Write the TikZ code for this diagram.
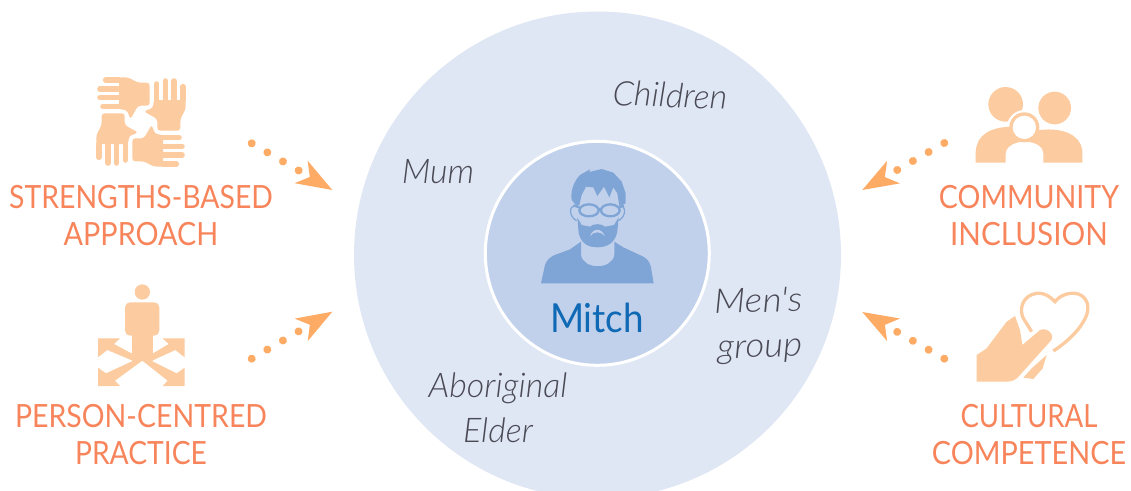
\documentclass[tikz,border=0pt]{standalone}
\usepackage{fontspec}
\usepackage{graphicx}
\usetikzlibrary{arrows.meta}
\newfontfamily\capsfont{Lato}
\newfontfamily\namefont{Lato}
\newfontfamily\handfont{Lato}[ItalicFont=* Light Italic]
\definecolor{peachicon}{HTML}{FCCBA0}
\definecolor{peachtext}{HTML}{F7845A}
\definecolor{peachflow}{HTML}{FDAB65}
\definecolor{outerblue}{HTML}{DFE6F4}
\definecolor{innerblue}{HTML}{C2D1EB}
\definecolor{bustblue}{HTML}{7FA5D6}
\definecolor{nameblue}{HTML}{0F69B4}
\definecolor{handgrey}{HTML}{4A4A55}
\newcommand{\capsline}[2]{\scalebox{#1}[1]{#2}}
\tikzset{
	practice/.style = {text=peachtext, align=center, inner sep=0pt,
		font=\capsfont\fontsize{32}{37}\selectfont},
	helper/.style = {text=handgrey, inner sep=0pt, align=center,
		font=\handfont\itshape\fontsize{34}{45}\selectfont},
	flow/.style = {draw=peachflow, line width=8pt, line cap=round, dash pattern=on 0.01pt off 18.07pt,
		-{Stealth[length=36pt, width=26pt, inset=10pt, line width=0pt, fill=peachflow]}},
	zoomed/.style = {x=0.33333pt, y=-0.33333pt},
	handpic/.pic = {
		\fill[peachicon, rounded corners=3] (-66,-134) -- (-39,-134) -- (-9,-118) -- (26,-118)
			-- (26,-49) -- (-9,-49) -- (-32,-8) -- (-42,-36) -- (-66,-38) -- cycle;
		\draw[peachicon, line width=5.6pt, line cap=round] (-106,-126) -- (-64,-126);
		\draw[peachicon, line width=5.6pt, line cap=round] (-123,-99) -- (-64,-99);
		\draw[peachicon, line width=5.6pt, line cap=round] (-123,-73) -- (-64,-73);
		\draw[peachicon, line width=5.6pt, line cap=round] (-114,-47) -- (-64,-47);
	}
}
\begin{document}
\begin{tikzpicture}[x=1pt, y=-1pt]
	\useasboundingbox (0,0) rectangle (1131,490);
	\clip (0,0) rectangle (1131,490);

	% circles
	\fill[outerblue] (597.5,255) circle (243.5);
	\node[circle, fill=innerblue, draw=white, line width=3pt, minimum size=224pt, inner sep=0pt] (mitch circle) at (597.3,253.3) {};

	% bust of Mitch
	\begin{scope}[shift={(480,130)}, zoomed]
		\fill[bustblue] (183,460) -- (195,405) .. controls (200,390) and (210,382) .. (222,376) -- (270,358) -- (303,335)
			-- (303,375) .. controls (310,420) and (396,420) .. (403,375) -- (403,335) -- (430,352) -- (490,380)
			.. controls (505,388) and (510,400) .. (513,412) -- (521,460) -- cycle;
		\fill[bustblue] (290,228) -- (275,210) .. controls (270,180) and (285,150) .. (300,135) -- (330,118) -- (328,126)
			-- (365,117) -- (400,128) -- (425,155) -- (437,190) -- (437,220) -- (418,228) -- (412,190) -- (400,172) -- (388,202)
			-- (372,170) -- (352,198) -- (340,172) -- (318,170) -- (305,195) -- (298,225) -- cycle;
		\fill[bustblue] (292,262) -- (296,310) .. controls (305,345) and (330,352) .. (352,352) .. controls (380,352) and (405,340) .. (412,305)
			-- (416,262) -- (402,285) -- (375,290) .. controls (365,280) and (340,280) .. (330,290) -- (305,285) -- cycle;
		\fill[innerblue] (330,318) .. controls (340,293) and (364,293) .. (374,318) .. controls (362,303) and (342,303) .. (330,318) -- cycle;
		\draw[bustblue, line width=2.3pt] (327,241) ellipse (29 and 18) (391,241) ellipse (28 and 18);
		\draw[bustblue, line width=2.3pt] (356,238) -- (363,238) (298,232) -- (280,226) (419,232) -- (432,226);
		\draw[bustblue, line width=1.2pt] (285,228) .. controls (268,225) and (265,260) .. (290,272);
		\draw[bustblue, line width=1.2pt] (420,228) .. controls (438,225) and (440,260) .. (415,272);
	\end{scope}
	\node[text=nameblue, inner sep=0pt, font=\namefont\fontsize{40}{40}\selectfont] (mitch) at (597,318) {\capsline{0.92}{Mitch}};

	% people around him
	\node[helper, rotate=-2] (children) at (670,95) {\capsline{1}{Children}};
	\node[helper] (mum) at (438,172) {Mum};
	\node[helper, rotate=2] (mens group) at (759,326) {\capsline{1.1}{Men's}\\\capsline{1.08}{group}};
	\node[helper] (elder) at (498,408) {Aboriginal\\Elder};

	% four hands
	\path (141,122) pic[zoomed] {handpic};
	\path (141,122) pic[zoomed, rotate=-90] {handpic};
	\path (141,122) pic[zoomed, rotate=180] {handpic};
	\path (141,122) pic[zoomed, rotate=90] {handpic};

	% person with arrows
	\begin{scope}[shift={(0,270)}, zoomed]
		\fill[peachicon] (427,66) circle (23);
		\fill[peachicon, rounded corners=5] (375,97) rectangle (478,197);
		\fill[peachicon] (396,190) -- (458,190) -- (458,272) -- (396,272) -- cycle;
		\fill[peachicon] (294,205) -- (360,205) -- (342,222) -- (398,252) -- (398,272) -- (322,240) -- (294,262) -- cycle;
		\fill[peachicon] (294,293) -- (318,310) -- (400,272) -- (427,272) -- (345,332) -- (360,348) -- (294,348) -- cycle;
		\fill[peachicon] (554,205) -- (488,205) -- (506,222) -- (456,252) -- (456,272) -- (526,240) -- (554,262) -- cycle;
		\fill[peachicon] (554,293) -- (530,310) -- (454,272) -- (427,272) -- (503,332) -- (488,348) -- (554,348) -- cycle;
	\end{scope}

	% family
	\begin{scope}[shift={(850,70)}, zoomed]
		\fill[peachicon] (467,103) circle (52);
		\fill[peachicon] (614,114) circle (49);
		\fill[white] (523,172) circle (52);
		\fill[peachicon] (377,278) -- (377,245) .. controls (380,195) and (420,170) .. (490,170) -- (570,180)
			.. controls (640,172) and (690,195) .. (697,240) -- (697,278) -- (580,278) -- (580,250)
			.. controls (578,225) and (550,215) .. (523,215) .. controls (500,215) and (470,225) .. (467,250) -- (467,278) -- cycle;
		\fill[peachicon] (523,172) circle (45);
		\fill[white] (523,172) circle (35);
	\end{scope}

	% hand and heart
	\begin{scope}[shift={(850,280)}, zoomed]
		\draw[peachicon, line width=3.3pt] (545,155) -- (520,115) .. controls (505,85) and (520,45) .. (560,40)
			.. controls (585,38) and (600,50) .. (615,65) .. controls (630,45) and (660,35) .. (685,42)
			.. controls (720,55) and (720,95) .. (700,125) .. controls (680,160) and (645,190) .. (610,213);
		\fill[peachicon] (380,225) -- (410,205) -- (470,125) -- (495,108) -- (510,150) -- (517,195) -- (570,150)
			.. controls (590,140) and (620,165) .. (600,185) -- (510,285) .. controls (500,297) and (490,305) .. (470,305) -- (380,305) -- cycle;
		\fill[peachicon] (590,225) -- (578,265) -- (550,297) -- (520,293) -- (545,265) -- cycle;
	\end{scope}

	% labels
	\node[practice] (strengths) at (141,215.5) {\capsline{0.887}{STRENGTHS-BASED}\\\capsline{0.9}{APPROACH}};
	\node[practice] (person) at (141,434.5) {\capsline{0.89}{PERSON-CENTRED}\\\capsline{0.883}{PRACTICE}};
	\node[practice] (community) at (1029,215.5) {\capsline{0.893}{COMMUNITY}\\\capsline{0.926}{INCLUSION}};
	\node[practice] (cultural) at (1029,434.5) {\capsline{0.862}{CULTURAL}\\\capsline{0.9}{COMPETENCE}};

	% arrows
	\coordinate (strengths dots) at (251.7,143.3);
	\coordinate (strengths tip) at (332.3,190);
	\coordinate (person dots) at (251.7,358.7);
	\coordinate (person tip) at (332.3,311.7);
	\coordinate (community dots) at (944.3,143);
	\coordinate (community tip) at (862.3,190);
	\coordinate (cultural dots) at (944.3,358.7);
	\coordinate (cultural tip) at (862.3,312);
	\draw[flow] (strengths dots) -- (strengths tip);
	\draw[flow] (person dots) -- (person tip);
	\draw[flow] (community dots) -- (community tip);
	\draw[flow] (cultural dots) -- (cultural tip);
\end{tikzpicture}
\end{document}
